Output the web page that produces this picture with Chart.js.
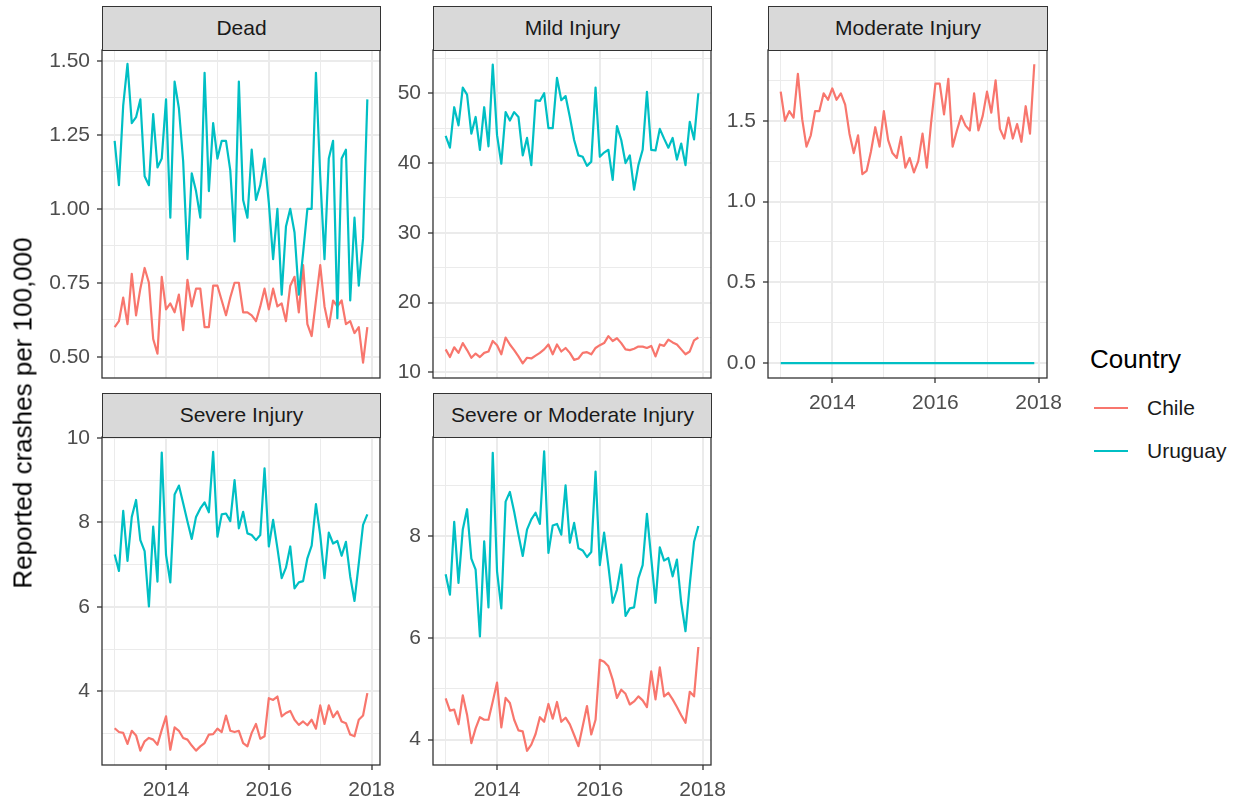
<!DOCTYPE html>
<html>
<head>
<meta charset="utf-8">
<script src="https://cdn.jsdelivr.net/npm/chart.js@4"></script>
<style>
  body { margin: 0; background: #fff; width: 1238px; height: 801px; position: relative; overflow: hidden;
         font-family: "Liberation Sans", Arial, Helvetica, sans-serif; }
  canvas { position: absolute; }
  .strip { position: absolute; box-sizing: border-box; background: #d9d9d9; border: 1.3px solid #333;
           color: #1a1a1a; font-size: 21px; text-align: center; line-height: 42px; }
  .ytitle { position: absolute; left: 23px; top: 413px; transform: translate(-50%, -50%) rotate(-90deg);
            font-size: 26px; color: #000; white-space: nowrap; }
  .legend { position: absolute; left: 1090px; top: 344px; }
  .legend .ttl { font-size: 26px; color: #000; }
  .legend .key { position: absolute; left: 4px; width: 34px; height: 2.4px; }
  .legend .lab { position: absolute; left: 57px; font-size: 21px; color: #1a1a1a; white-space: nowrap; }
</style>
</head>
<body>
<canvas id="dead"></canvas>
<canvas id="mild"></canvas>
<canvas id="moderate"></canvas>
<canvas id="severe"></canvas>
<canvas id="sevmod"></canvas>

<div class="strip" style="left:102px;top:6px;width:279px;height:45px;">Dead</div>
<div class="strip" style="left:433px;top:6px;width:279px;height:45px;">Mild Injury</div>
<div class="strip" style="left:768px;top:6px;width:280px;height:45px;">Moderate Injury</div>
<div class="strip" style="left:102px;top:393px;width:279px;height:45px;">Severe Injury</div>
<div class="strip" style="left:433px;top:393px;width:279px;height:45px;">Severe or Moderate Injury</div>

<div class="ytitle">Reported crashes per 100,000</div>

<div class="legend">
  <div class="ttl">Country</div>
  <div class="key" style="top:63px;background:#F8766D;"></div>
  <div class="lab" style="top:52px;">Chile</div>
  <div class="key" style="top:106px;background:#00BFC4;"></div>
  <div class="lab" style="top:95px;">Uruguay</div>
</div>

<script>
const countries = ["Chile", "Uruguay"];
const colors = ["#F8766D", "#00BFC4"];
const startYear = 2013; // monthly, Jan 2013 .. Dec 2017

const xTicks = [2013, 2014, 2015, 2016, 2017, 2018];
const xMajor = [2014, 2016, 2018];

const deadChile = [0.60,0.62,0.70,0.61,0.78,0.64,0.73,0.80,0.75,0.56,
  0.51,0.77,0.66,0.68,0.65,0.71,0.59,0.76,0.67,0.73,
  0.73,0.60,0.60,0.74,0.74,0.69,0.64,0.70,0.75,0.75,
  0.65,0.65,0.64,0.62,0.67,0.73,0.66,0.73,0.67,0.68,
  0.62,0.74,0.77,0.65,0.81,0.61,0.57,0.69,0.81,0.67,
  0.60,0.69,0.67,0.69,0.61,0.62,0.58,0.60,0.48,0.60];
const deadUruguay = [1.23,1.08,1.35,1.49,1.29,1.31,1.37,1.11,1.08,1.32,
  1.14,1.17,1.37,0.97,1.43,1.34,1.16,0.83,1.12,1.06,
  0.97,1.46,1.06,1.29,1.17,1.23,1.23,1.13,0.89,1.43,
  1.03,0.97,1.20,1.03,1.08,1.17,1.02,0.83,1.00,0.71,
  0.94,1.00,0.92,0.71,0.85,1.00,1.00,1.46,1.11,0.83,
  1.17,1.23,0.63,1.17,1.20,0.69,0.97,0.74,0.90,1.37];

const mildChile = [13.3,12.2,13.6,12.8,14.2,13.2,12.1,12.7,12.2,12.8,
  13.0,14.5,13.9,12.6,15.0,14.0,13.2,12.3,11.3,12.1,
  12.0,12.4,12.8,13.3,14.0,12.6,14.0,13.0,13.5,12.8,
  11.8,12.0,12.8,12.9,12.6,13.5,13.9,14.2,15.2,14.5,
  14.9,14.2,13.3,13.2,13.4,13.7,13.7,13.5,13.8,12.3,
  14.0,13.8,14.7,14.3,14.0,13.3,12.6,13.0,14.6,15.0];
const mildUruguay = [43.9,42.2,48.0,45.4,50.8,49.8,44.2,46.6,41.9,48.0,
  42.4,54.1,44.0,39.9,47.3,46.1,47.3,46.6,41.1,43.6,
  39.7,49.0,48.9,50.0,45.0,45.0,52.2,49.0,49.6,46.6,
  43.3,41.1,40.9,39.6,40.2,50.8,40.9,41.5,41.9,37.6,
  45.3,43.3,40.0,41.1,36.2,39.7,41.9,50.2,41.9,41.8,
  44.9,43.5,42.2,43.6,40.5,42.8,39.7,45.9,43.4,50.0];

const modChile = [1.68,1.50,1.56,1.52,1.79,1.51,1.34,1.41,1.56,1.56,
  1.67,1.63,1.70,1.63,1.67,1.60,1.42,1.30,1.41,1.17,
  1.19,1.31,1.46,1.34,1.56,1.38,1.30,1.27,1.40,1.21,
  1.27,1.18,1.25,1.42,1.21,1.49,1.73,1.73,1.54,1.76,
  1.34,1.44,1.53,1.47,1.44,1.67,1.44,1.53,1.68,1.55,
  1.75,1.45,1.39,1.52,1.39,1.48,1.37,1.59,1.42,1.85];
const modUruguay = [0,0,0,0,0,0,0,0,0,0,
  0,0,0,0,0,0,0,0,0,0,
  0,0,0,0,0,0,0,0,0,0,
  0,0,0,0,0,0,0,0,0,0,
  0,0,0,0,0,0,0,0,0,0,
  0,0,0,0,0,0,0,0,0,0];

const sevChile = [3.13,3.04,3.02,2.76,3.07,2.96,2.60,2.82,2.90,2.86,
  2.74,3.09,3.41,2.62,3.15,3.07,2.90,2.86,2.72,2.60,
  2.70,2.78,2.98,2.99,3.12,3.04,3.43,3.07,3.04,3.07,
  2.78,2.70,3.02,3.23,2.88,2.94,3.84,3.80,3.88,3.41,
  3.49,3.54,3.33,3.21,3.29,3.20,3.33,3.12,3.67,3.23,
  3.67,3.39,3.53,3.29,3.25,2.98,2.94,3.33,3.43,3.96];
const sevUruguay = [7.24,6.85,8.27,7.09,8.13,8.53,7.58,7.32,6.01,7.90,
  6.60,9.65,7.23,6.58,8.66,8.87,8.45,8.02,7.61,8.13,
  8.33,8.47,8.24,9.67,7.66,8.19,8.21,8.03,9.00,7.86,
  8.25,7.74,7.70,7.58,7.70,9.28,7.43,8.06,7.39,6.68,
  6.93,7.43,6.44,6.58,6.61,7.15,7.45,8.43,7.70,6.68,
  7.76,7.50,7.56,7.21,7.54,6.72,6.14,7.03,7.94,8.19];

const smChile = [4.81,4.57,4.59,4.30,4.87,4.49,3.93,4.22,4.44,4.39,
  4.39,4.75,5.12,4.24,4.82,4.72,4.39,4.18,4.16,3.78,
  3.90,4.11,4.44,4.35,4.70,4.41,4.74,4.35,4.43,4.30,
  4.09,3.87,4.26,4.66,4.10,4.39,5.57,5.53,5.44,5.18,
  4.82,4.98,4.90,4.69,4.75,4.85,4.77,4.64,5.34,4.79,
  5.42,4.85,4.92,4.79,4.64,4.48,4.33,4.94,4.85,5.82];
const smUruguay = [7.25,6.85,8.28,7.08,8.13,8.53,7.56,7.34,6.03,7.90,
  6.60,9.64,7.31,6.58,8.68,8.87,8.48,8.03,7.61,8.13,
  8.33,8.46,8.24,9.67,7.67,8.21,8.24,8.03,9.00,7.87,
  8.26,7.76,7.72,7.59,7.69,9.27,7.43,8.07,7.41,6.69,
  6.95,7.44,6.43,6.58,6.60,7.17,7.43,8.44,7.57,6.69,
  7.78,7.52,7.57,7.21,7.54,6.69,6.13,7.05,7.89,8.20];

// y tick values per panel (majors labelled, minors only gridlines)
const deadTicks = [0.5, 0.625, 0.75, 0.875, 1.0, 1.125, 1.25, 1.375, 1.5];
const deadMajor = [0.5, 0.75, 1.0, 1.25, 1.5];
const mildTicks = [10, 15, 20, 25, 30, 35, 40, 45, 50, 55];
const mildMajor = [10, 20, 30, 40, 50];
const modTicks = [0, 0.25, 0.5, 0.75, 1.0, 1.25, 1.5, 1.75];
const modMajor = [0, 0.5, 1.0, 1.5];
const sevTicks = [3, 4, 5, 6, 7, 8, 9, 10];
const sevMajor = [4, 6, 8, 10];
const smTicks = [4, 5, 6, 7, 8, 9];
const smMajor = [4, 6, 8];

const FONT = '"Liberation Sans", Arial, Helvetica, sans-serif';
const AXIS_W = 80, PAD = 14, XH = 40;

const panelBorder = {
  id: "panelBorder",
  afterDraw(chart) {
    const a = chart.chartArea, c = chart.ctx;
    c.save();
    c.strokeStyle = "#333333";
    c.lineWidth = 1.3;
    c.strokeRect(a.left, a.top, a.right - a.left, a.bottom - a.top);
    c.restore();
  }
};

function toPoints(vals) {
  return vals.map((v, i) => ({ x: startYear + i / 12, y: v }));
}

function isIn(list, v) {
  return list.some(m => Math.abs(m - v) < 1e-9);
}

function makePanel(id, box, yMin, yMax, yTicks, yMajor, digits, chile, uruguay, showX) {
  const el = document.getElementById(id);
  const w = box.r - box.l, h = box.b - box.t;
  const cw = AXIS_W + w + 30, ch = PAD + h + XH + 4;
  el.width = cw; el.height = ch;
  el.style.left = (box.l - AXIS_W) + "px";
  el.style.top = (box.t - PAD) + "px";
  el.style.width = cw + "px"; el.style.height = ch + "px";

  const xh = showX ? XH : 0;

  new Chart(el.getContext("2d"), {
    type: "line",
    data: {
      datasets: [
        { label: countries[0], data: toPoints(chile), borderColor: colors[0], order: 1 },
        { label: countries[1], data: toPoints(uruguay), borderColor: colors[1], order: 0 }
      ]
    },
    options: {
      responsive: false,
      animation: false,
      devicePixelRatio: 1,
      layout: { padding: { left: 0, top: PAD, right: 30, bottom: XH + 4 - xh } },
      elements: {
        line: { borderWidth: 2.2, tension: 0, fill: false, borderJoinStyle: "round" },
        point: { radius: 0 }
      },
      plugins: { legend: { display: false }, tooltip: { enabled: false } },
      scales: {
        x: {
          type: "linear",
          min: 2012.754, max: 2018.163,
          afterBuildTicks: s => { s.ticks = xTicks.map(v => ({ value: v })); },
          afterFit: s => { s.height = xh; s.paddingLeft = 0; s.paddingRight = 0; },
          border: { display: false },
          grid: {
            color: "#ebebeb",
            lineWidth: c => isIn(xMajor, c.tick.value) ? 2 : 1,
            drawTicks: showX,
            tickLength: 5,
            tickColor: c => isIn(xMajor, c.tick.value) ? "#333333" : "rgba(0,0,0,0)",
            tickWidth: 1.3
          },
          ticks: {
            display: showX,
            autoSkip: false,
            maxRotation: 0,
            padding: 8,
            color: "#4d4d4d",
            font: { family: FONT, size: 21 },
            callback: v => isIn(xMajor, v) ? String(v) : ""
          }
        },
        y: {
          min: yMin, max: yMax,
          afterBuildTicks: s => { s.ticks = yTicks.map(v => ({ value: v })); },
          afterFit: s => { s.width = AXIS_W; s.paddingTop = 0; s.paddingBottom = 0; },
          border: { display: false },
          grid: {
            color: "#ebebeb",
            lineWidth: c => isIn(yMajor, c.tick.value) ? 2 : 1,
            tickLength: 5,
            tickColor: c => isIn(yMajor, c.tick.value) ? "#333333" : "rgba(0,0,0,0)",
            tickWidth: 1.3
          },
          ticks: {
            autoSkip: false,
            padding: 7,
            color: "#4d4d4d",
            font: { family: FONT, size: 21 },
            callback: v => isIn(yMajor, v) ? Number(v).toFixed(digits) : ""
          }
        }
      }
    },
    plugins: [panelBorder]
  });
}

makePanel("dead", { l: 102, t: 50, r: 380, b: 378 }, 0.428, 1.537, deadTicks, deadMajor, 2, deadChile, deadUruguay, false);
makePanel("mild", { l: 433, t: 50, r: 711, b: 378 }, 9.2, 56.2, mildTicks, mildMajor, 0, mildChile, mildUruguay, false);
makePanel("moderate", { l: 768, t: 50, r: 1047, b: 378 }, -0.092, 1.938, modTicks, modMajor, 1, modChile, modUruguay, true);
makePanel("severe", { l: 102, t: 437, r: 380, b: 765 }, 2.26, 10.02, sevTicks, sevMajor, 0, sevChile, sevUruguay, true);
makePanel("sevmod", { l: 433, t: 437, r: 711, b: 765 }, 3.5, 9.95, smTicks, smMajor, 0, smChile, smUruguay, true);
</script>
</body>
</html>
